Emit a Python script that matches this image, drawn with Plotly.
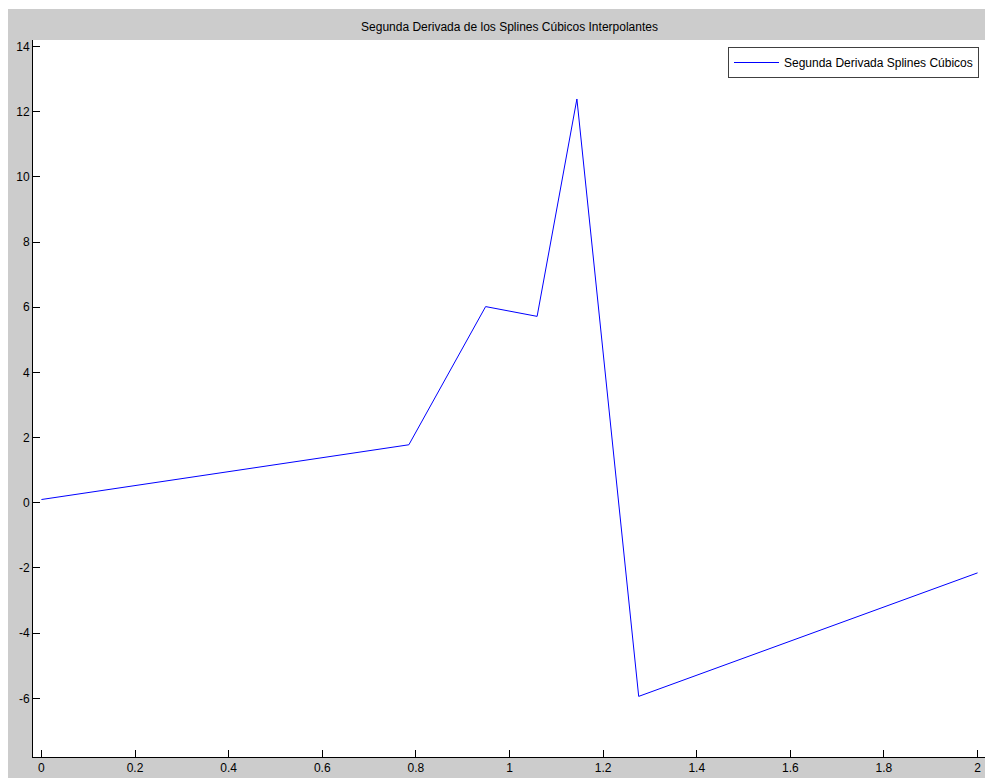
import plotly.graph_objects as go

# knots of the spline and the second derivative at each of them
x_knots = [0, 0.785, 0.949, 1.059, 1.144, 1.276, 2.0]
y_second_deriv = [0.1, 1.78, 6.02, 5.72, 12.39, -5.94, -2.15]

x_ticks = [0, 0.2, 0.4, 0.6, 0.8, 1, 1.2, 1.4, 1.6, 1.8, 2]
x_tick_labels = ["0", "0.2", "0.4", "0.6", "0.8", "1", "1.2", "1.4", "1.6", "1.8", "2"]
y_ticks = [-6, -4, -2, 0, 2, 4, 6, 8, 10, 12, 14]
y_tick_labels = ["-6", "-4", "-2", "0", "2", "4", "6", "8", "10", "12", "14"]

title = "Segunda Derivada de los Splines Cúbicos Interpolantes"
series_name = "Segunda Derivada Splines Cúbicos"

# page body has an 8px margin, so the figure is 8px smaller than the window
OFF = 8
W, H = 993 - OFF, 778 - OFF
ml, mr, mt, mb = 33 - OFF, 7, 40 - OFF, 21
pw, ph = W - ml - mr, H - mt - mb


def px_x(p):
    # window pixel -> paper x
    return (p - OFF - ml) / pw


def px_y(p):
    # window pixel -> paper y
    return (H - mb - (p - OFF)) / ph


font = dict(family="Liberation Sans, Arial, sans-serif", size=12, color="black")

fig = go.Figure()
fig.add_trace(go.Scatter(
    x=x_knots, y=y_second_deriv,
    mode="lines",
    name=series_name,
    line=dict(color="#0000ff", width=1),
))

axis_style = dict(
    showline=True, linecolor="black", linewidth=1,
    ticks="inside", ticklen=7, tickcolor="black", tickwidth=1,
    showgrid=False, zeroline=False, mirror=False,
    automargin=False, tickfont=font,
)

fig.update_layout(
    width=W, height=H,
    margin=dict(l=ml, r=mr, t=mt, b=mb),
    paper_bgcolor="#cccccc",
    plot_bgcolor="white",
    font=font,
    title=dict(text=title, x=0.5, xref="paper", y=1 - (27 - OFF) / H,
               yanchor="middle", font=dict(size=12)),
    xaxis=dict(range=[-0.018, 2.018], tickvals=x_ticks,
               ticktext=x_tick_labels, **axis_style),
    yaxis=dict(range=[-7.8, 14.2], tickvals=y_ticks,
               ticktext=y_tick_labels, **axis_style),
    showlegend=True,
    legend=dict(x=px_x(979), y=px_y(47), xanchor="right", yanchor="top",
                bgcolor="white", bordercolor="#404040", borderwidth=1,
                itemwidth=45, font=font),
)

# thin white strip at the very top, above the gray window
fig.add_shape(type="rect", xref="paper", yref="paper", layer="above",
              x0=px_x(0), x1=px_x(1000), y0=px_y(9), y1=px_y(0),
              fillcolor="white", line_width=0)

fig.write_html("out.html")
